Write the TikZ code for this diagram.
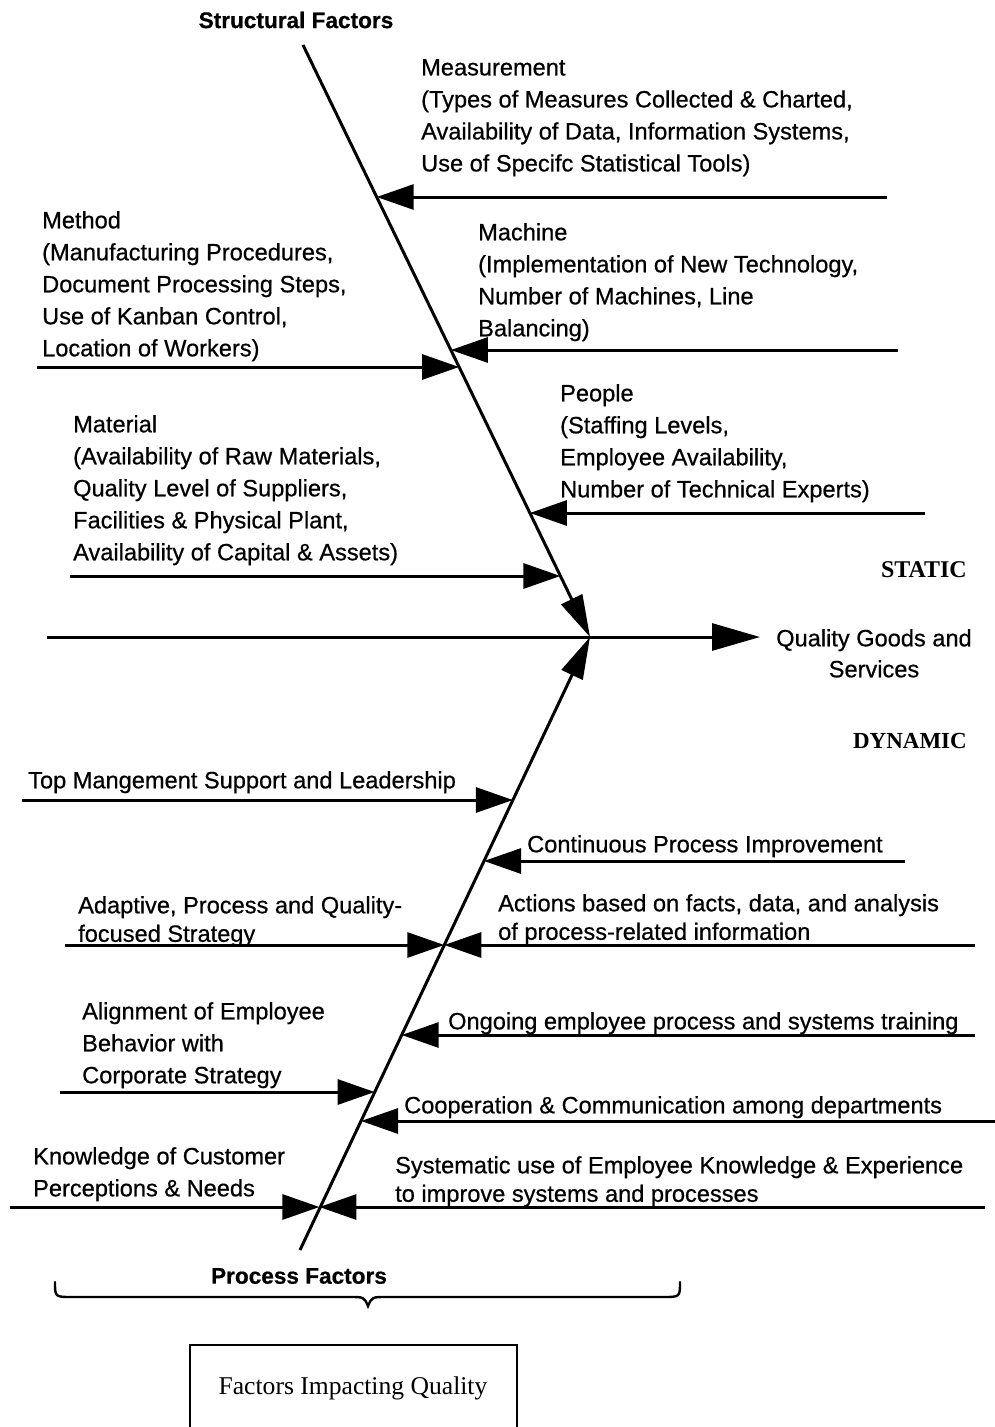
\documentclass[tikz,border=0pt]{standalone}
\usepackage{fontspec}
\setmainfont{Liberation Sans}[FakeBold=0.6]
\newfontfamily\serifface{Liberation Serif}
\usetikzlibrary{arrows.meta}

\begin{document}
\begin{tikzpicture}[x=1pt,y=-1pt,
  lbl/.style={anchor=north west,inner sep=0pt,align=left,font=\fontsize{23.6}{32}\selectfont},
  lbltight/.style={lbl,font=\fontsize{23.6}{28.5}\selectfont},
  heading/.style={inner sep=0pt,font=\fontsize{22.6}{26}\selectfont\bfseries},
  sidelbl/.style={anchor=north east,inner sep=0pt,font=\fontsize{23}{26}\selectfont\serifface\bfseries},
  bone/.style={line width=3pt,-{Triangle[length=37pt,width=25pt]}},
  spine/.style={line width=3pt,-{Triangle[length=42pt,width=23pt]}},
  mainaxis/.style={line width=3pt,-{Triangle[length=48pt,width=27pt]}}]
\useasboundingbox (0,0) rectangle (995,1427);

% ---- skeleton ----
\coordinate (stTop) at (303,45);
\coordinate (stBot) at (300,1250);
\coordinate (head) at (590,637);
\coordinate (axL) at (47,637);
\coordinate (axR) at (760,637);
\draw[spine] (stTop) -- (head);
\draw[spine] (stBot) -- (head);
\draw[mainaxis] (axL) -- (axR);

% ---- structural (static) branches ----
\coordinate (sMeas) at (376.7,197);  \coordinate (eMeas) at (887,197);
\coordinate (sMach) at (450.9,350);  \coordinate (eMach) at (898,350);
\coordinate (sMeth) at (459.1,367);  \coordinate (eMeth) at (37,367);
\coordinate (sPeop) at (529.9,513);  \coordinate (ePeop) at (925,513);
\coordinate (sMatl) at (560.4,576);  \coordinate (eMatl) at (70,576);
\draw[bone] (eMeas) -- (sMeas);
\draw[bone] (eMach) -- (sMach);
\draw[bone] (eMeth) -- (sMeth);
\draw[bone] (ePeop) -- (sPeop);
\draw[bone] (eMatl) -- (sMatl);

% ---- process (dynamic) branches ----
\coordinate (pTop) at (512.9,800);  \coordinate (qTop) at (22,800);
\coordinate (pCont) at (484.0,861); \coordinate (qCont) at (905,861);
\coordinate (pAdap) at (444.3,945); \coordinate (qAdap) at (65,945);
\coordinate (qAct) at (975,945);
\coordinate (pOngo) at (401.7,1035); \coordinate (qOngo) at (975,1035);
\coordinate (pAlig) at (374.7,1092); \coordinate (qAlig) at (60,1092);
\coordinate (pCoop) at (361.0,1121); \coordinate (qCoop) at (995,1121);
\coordinate (pKnow) at (319.4,1207); \coordinate (qKnow) at (10,1207);
\coordinate (qSyst) at (985,1207);
\draw[bone] (qTop) -- (pTop);
\draw[bone] (qCont) -- (pCont);
\draw[bone] (qAdap) -- (pAdap);
\draw[bone] (qAct) -- (pAdap);
\draw[bone] (qOngo) -- (pOngo);
\draw[bone] (qAlig) -- (pAlig);
\draw[bone] (qCoop) -- (pCoop);
\draw[bone] (qKnow) -- (pKnow);
\draw[bone] (qSyst) -- (pKnow);

% ---- headings ----
\node[heading] (structural) at (296,20) {Structural Factors};
\node[heading] (process) at (299,1276) {Process Factors};
\node[sidelbl,font=\fontsize{24}{26}\selectfont\serifface\bfseries] (static) at (967,561) {STATIC};
\node[sidelbl] (dynamic) at (967,733) {DYNAMIC};
\node[inner sep=0pt,align=center,font=\fontsize{23.6}{31}\selectfont,anchor=north] (goal) at (874,629)
  {Quality Goods and\\Services};

% ---- structural labels ----
\node[lbl] (measurement) at (421,59) {Measurement\\(Types of Measures Collected \& Charted,\\Availability of Data, Information Systems,\\Use of Specifc Statistical Tools)};
\node[lbl] (method) at (42,211) {Method\\(Manufacturing Procedures,\\Document Processing Steps,\\Use of Kanban Control,\\Location of Workers)};
\node[lbl] (machine) at (478,223) {Machine\\(Implementation of New Technology,\\Number of Machines, Line\\Balancing)};
\node[lbl] (people) at (560,384) {People\\(Staffing Levels,\\Employee Availability,\\Number of Technical Experts)};
\node[lbl] (material) at (73,415) {Material\\(Availability of Raw Materials,\\Quality Level of Suppliers,\\Facilities \& Physical Plant,\\Availability of Capital \& Assets)};

% ---- process labels ----
\node[lbl] (topmgmt) at (28,771) {Top Mangement Support and Leadership};
\node[lbl] (contimp) at (527,835) {Continuous Process Improvement};
\node[lbltight] (adaptive) at (78,896) {Adaptive, Process and Quality-\\focused Strategy};
\node[lbltight] (actions) at (498,894) {Actions based on facts, data, and analysis\\of process-related information};
\node[lbl] (alignment) at (82,1002) {Alignment of Employee\\Behavior with\\Corporate Strategy};
\node[lbl] (ongoing) at (448,1012) {Ongoing employee process and systems training};
\node[lbl] (coop) at (404,1096) {Cooperation \& Communication among departments};
\node[lbl] (knowledge) at (33,1147) {Knowledge of Customer\\Perceptions \& Needs};
\node[lbltight] (systematic) at (395,1156) {Systematic use of Employee Knowledge \& Experience\\to improve systems and processes};

% ---- brace over the process factors ----
\draw[line width=2.4pt,line cap=round]
  (55,1282) .. controls (55,1297) .. (72,1297) -- (350,1297)
  .. controls (364,1297) .. (368,1306)
  .. controls (372,1297) .. (386,1297) -- (663,1297)
  .. controls (680,1297) .. (680,1282);

% ---- caption box ----
\draw[line width=2.6pt] (190,1345) rectangle (517,1470);
\node[inner sep=0pt,font=\fontsize{25.6}{30}\selectfont\serifface] (caption) at (353,1388) {Factors Impacting Quality};
\end{tikzpicture}
\end{document}
